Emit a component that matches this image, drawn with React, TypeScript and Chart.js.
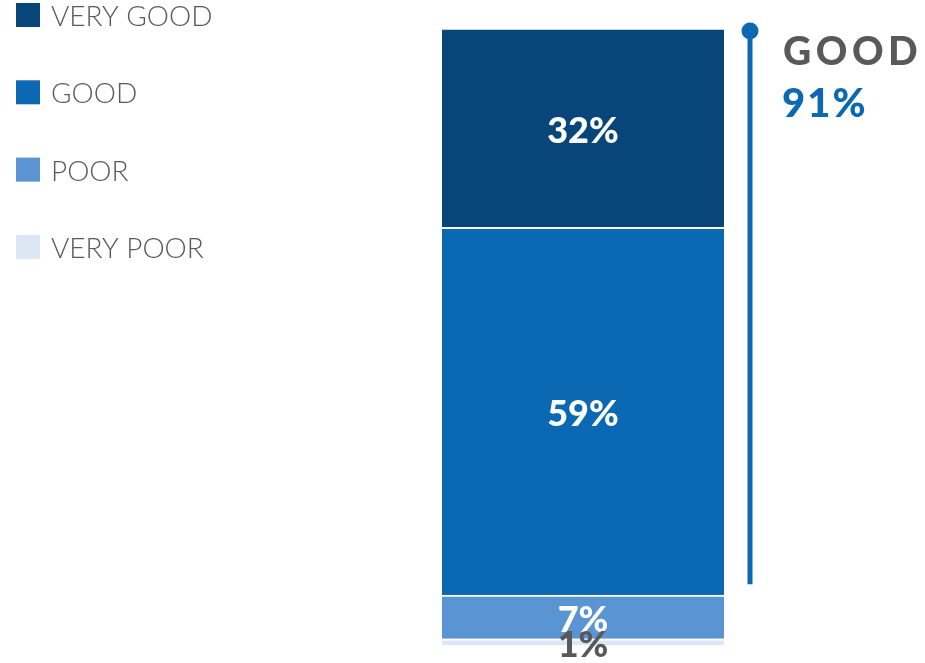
import React, { useEffect, useRef } from "react";
import { Chart, registerables } from "chart.js";

Chart.register(...registerables);

// ---- data ----
const categories = ["Rating"];
const seriesLabels = ["VERY POOR", "POOR", "GOOD", "VERY GOOD"];
const veryPoor = [1];
const poor = [7];
const good = [59];
const veryGood = [32];
const seriesColors = ["#DCE7F5", "#5B94D3", "#0A69B2", "#08467A"];
const labelColors = ["#595959", "#FFFFFF", "#FFFFFF", "#FFFFFF"];
const summaryTitle = "GOOD";
const summaryValue = 91;
const axisMax = 99;

const FONT = "Lato, 'DejaVu Sans', sans-serif";

const overlayPlugin = {
  id: "overlay",
  afterDatasetsDraw(chart: any) {
    const { ctx } = chart;
    const y = chart.scales.y;
    ctx.save();
    // segment labels, top dataset first so lower ones overlay
    for (let d = chart.data.datasets.length - 1; d >= 0; d--) {
      const meta = chart.getDatasetMeta(d);
      meta.data.forEach((el: any, i: number) => {
        const v = chart.data.datasets[d].data[i];
        const cy = (el.y + el.base) / 2;
        ctx.font = `900 36px ${FONT}`;
        ctx.fillStyle = labelColors[d];
        ctx.textAlign = "center";
        ctx.textBaseline = "alphabetic";
        ctx.fillText(`${v}%`, el.x, cy + 15);
      });
    }
    // bracket line for the summary
    const meta = chart.getDatasetMeta(chart.data.datasets.length - 1);
    const bar = meta.data[0];
    const lineX = bar.x + bar.width / 2 + 26;
    const topY = y.getPixelForValue(axisMax);
    const botY = y.getPixelForValue(axisMax - summaryValue) - 11;
    ctx.strokeStyle = "#0A69B2";
    ctx.lineWidth = 5;
    ctx.beginPath();
    ctx.moveTo(lineX, topY);
    ctx.lineTo(lineX, botY);
    ctx.stroke();
    ctx.fillStyle = "#0A69B2";
    ctx.beginPath();
    ctx.arc(lineX, topY + 3, 8.5, 0, Math.PI * 2);
    ctx.fill();
    // summary text
    ctx.textAlign = "left";
    ctx.textBaseline = "alphabetic";
    ctx.font = `900 39px ${FONT}`;
    (ctx as any).letterSpacing = "4.5px";
    ctx.fillStyle = "#595959";
    ctx.fillText(summaryTitle, lineX + 33, topY + 37);
    (ctx as any).letterSpacing = "2px";
    ctx.fillStyle = "#0A69B2";
    ctx.font = `900 40px ${FONT}`;
    ctx.fillText(`${summaryValue}%`, lineX + 32, topY + 89);
    (ctx as any).letterSpacing = "0px";

    // legend (top to bottom: reversed series)
    ctx.font = `300 28px ${FONT}`;
    for (let k = 0; k < seriesLabels.length; k++) {
      const d = seriesLabels.length - 1 - k;
      const top = 3 + k * 77.3;
      ctx.fillStyle = seriesColors[d];
      ctx.fillRect(16, top, 24, 24);
      ctx.fillStyle = "#595959";
      ctx.fillText(seriesLabels[d], 51, top + 23);
    }
    ctx.restore();
  },
};

export default function App() {
  const ref = useRef<HTMLCanvasElement>(null);
  useEffect(() => {
    document.body.style.margin = "0";
    const values = [veryPoor, poor, good, veryGood];
    const chart = new Chart(ref.current!, {
      type: "bar",
      data: {
        labels: categories,
        datasets: values.map((vals, i) => ({
          label: seriesLabels[i],
          data: vals,
          backgroundColor: seriesColors[i],
          borderColor: "#FFFFFF",
          borderWidth: { top: 2, left: 0, right: 0, bottom: 0 },
          borderSkipped: false,
          categoryPercentage: 1,
          barPercentage: 1,
        })),
      },
      options: {
        responsive: false,
        animation: false,
        layout: { padding: { left: 442, right: 201, top: 28, bottom: 18 } },
        plugins: { legend: { display: false }, tooltip: { enabled: false } },
        scales: {
          x: { stacked: true, display: false },
          y: { stacked: true, display: false, min: 0, max: axisMax },
        },
      },
      plugins: [overlayPlugin],
    });
    return () => chart.destroy();
  }, []);
  return (
    <div style={{ width: 925, height: 663 }}>
      <canvas ref={ref} width={925} height={663} />
    </div>
  );
}
